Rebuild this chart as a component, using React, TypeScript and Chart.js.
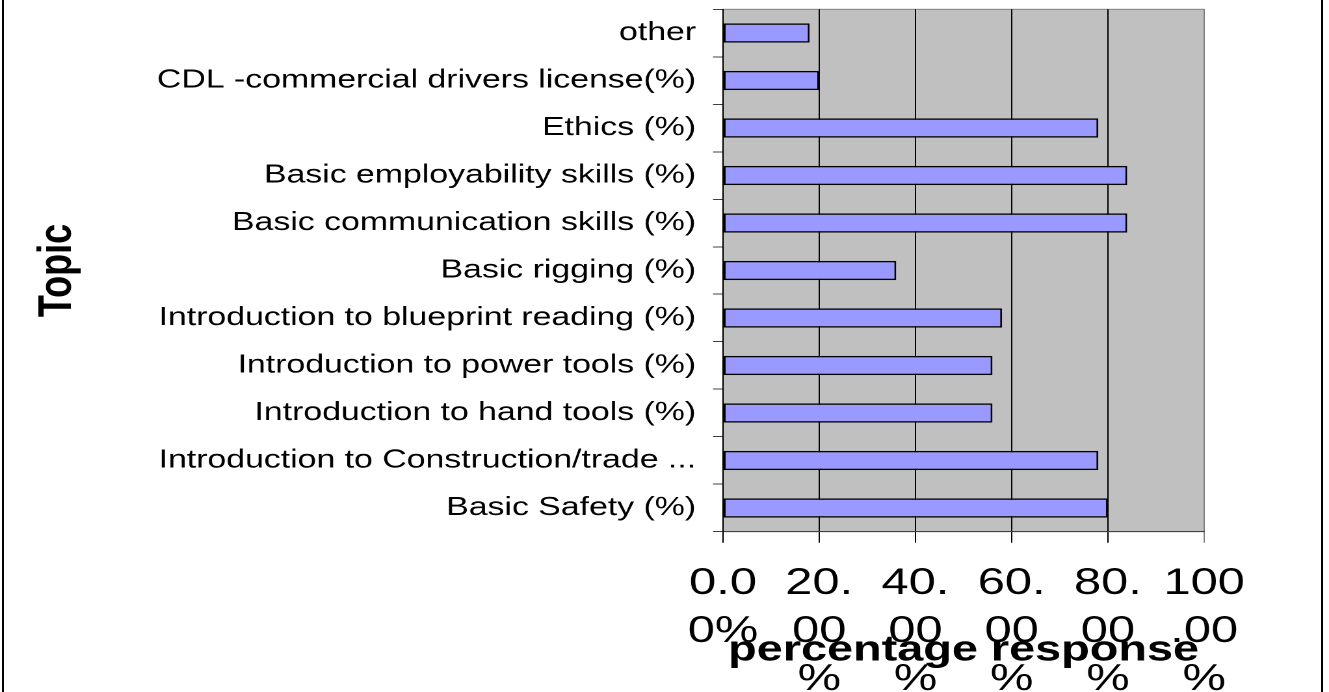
import React, { useEffect, useRef } from 'react';
import { Chart, registerables } from 'chart.js';

Chart.register(...registerables);

// Categories in the workbook's order (first = bottom bar)
const categories: string[] = [
  'Basic Safety (%)',
  'Introduction to Construction/trade ...',
  'Introduction to hand tools (%)',
  'Introduction to power tools (%)',
  'Introduction to blueprint reading (%)',
  'Basic rigging (%)',
  'Basic communication skills (%)',
  'Basic employability skills (%)',
  'Ethics (%)',
  'CDL -commercial drivers license(%)',
  'other',
];

// Percentage of responses per topic
const responses: number[] = [80, 78, 56, 56, 58, 36, 84, 84, 78, 20, 18];

// X-axis tick labels as wrapped in the original ("0.00%", "20.00%", ...)
const xTickLabels: string[][] = [
  ['0.0', '0%'],
  ['20.', '00', '%'],
  ['40.', '00', '%'],
  ['60.', '00', '%'],
  ['80.', '00', '%'],
  ['100', '.00', '%'],
];

const xTitle = 'percentage response';
const yTitle = 'Topic';

// The original picture is stretched horizontally; the chart is drawn on a
// narrower canvas that is widened by CSS to the page width.
const PAGE_W = 1329;
const PAGE_H = 692;
const STRETCH = 1.3;
const CANVAS_W = Math.round(PAGE_W / STRETCH);

const plotBackground = {
  id: 'plotBackground',
  beforeDraw(chart: any) {
    const { ctx, chartArea: a } = chart;
    ctx.save();
    ctx.fillStyle = '#c0c0c0';
    ctx.fillRect(a.left, a.top, a.right - a.left, a.bottom - a.top);
    ctx.strokeStyle = '#808080';
    ctx.lineWidth = 1;
    ctx.strokeRect(a.left, a.top, a.right - a.left, a.bottom - a.top);
    ctx.restore();
  },
};

export default function App() {
  const canvasRef = useRef<HTMLCanvasElement | null>(null);

  useEffect(() => {
    document.body.style.margin = '0';
    document.body.style.overflow = 'hidden';
    const canvas = canvasRef.current;
    if (!canvas) return;
    const chart = new Chart(canvas, {
      type: 'bar',
      data: {
        labels: categories,
        datasets: [
          {
            label: 'response',
            data: responses,
            backgroundColor: '#9999ff',
            borderColor: '#000000',
            borderWidth: 1.5,
            borderSkipped: false,
            barPercentage: 0.406,
            categoryPercentage: 1,
          },
        ],
      },
      options: {
        indexAxis: 'y',
        responsive: false,
        animation: false,
        devicePixelRatio: 2,
        layout: { padding: { top: 9.3, right: CANVAS_W - 926, bottom: 0, left: 0 } },
        plugins: {
          legend: { display: false },
          tooltip: { enabled: false },
        },
        scales: {
          x: {
            type: 'linear',
            position: 'bottom',
            min: 0,
            max: 100,
            afterFit(scale: any) {
              scale.height = 160.3;
            },
            ticks: {
              stepSize: 20,
              autoSkip: false,
              maxRotation: 0,
              minRotation: 0,
              padding: 17,
              color: '#000000',
              font: { family: 'Liberation Sans', size: 37.5, lineHeight: 1.28 },
              callback: (_v: any, i: number) => xTickLabels[i],
            },
            grid: {
              color: (c: any) => (c.index === xTickLabels.length - 1 ? '#808080' : '#000000'),
              lineWidth: 1,
              tickLength: 11,
              drawTicks: true,
            },
            border: { display: true, color: '#404040', width: 1 },
            title: {
              display: true,
              text: xTitle,
              color: '#000000',
              font: { family: 'Liberation Sans', size: 36, weight: 'bold', lineHeight: 1.2 },
              padding: { top: 0, bottom: 20 },
            },
          },
          y: {
            type: 'category',
            reverse: true,
            afterFit(scale: any) {
              scale.width = 556;
              scale.paddingTop = 0;
              scale.paddingBottom = 0;
            },
            ticks: {
              autoSkip: false,
              padding: 13,
              color: '#000000',
              font: { family: 'Liberation Sans', size: 26 },
            },
            grid: {
              offset: true,
              drawOnChartArea: false,
              drawTicks: true,
              tickLength: 7.7,
              color: '#404040',
            },
            border: { display: true, color: '#000000', width: 1 },
            title: {
              display: true,
              text: yTitle,
              color: '#000000',
              font: { family: 'Liberation Sans', size: 36, weight: 'bold', lineHeight: 1.2 },
              padding: { top: 23, bottom: 0 },
            },
          },
        },
      },
      plugins: [plotBackground],
    });
    return () => chart.destroy();
  }, []);

  return (
    <div style={{ position: 'relative', width: PAGE_W, height: PAGE_H, overflow: 'hidden', background: '#ffffff' }}>
      <canvas
        ref={canvasRef}
        width={CANVAS_W}
        height={PAGE_H}
        style={{ position: 'absolute', left: 0, top: 0, width: PAGE_W + 'px', height: PAGE_H + 'px' }}
      />
      <div
        style={{
          position: 'absolute',
          left: 2,
          right: 6,
          top: -10,
          bottom: -10,
          border: '2px solid #000000',
          pointerEvents: 'none',
        }}
      />
    </div>
  );
}
